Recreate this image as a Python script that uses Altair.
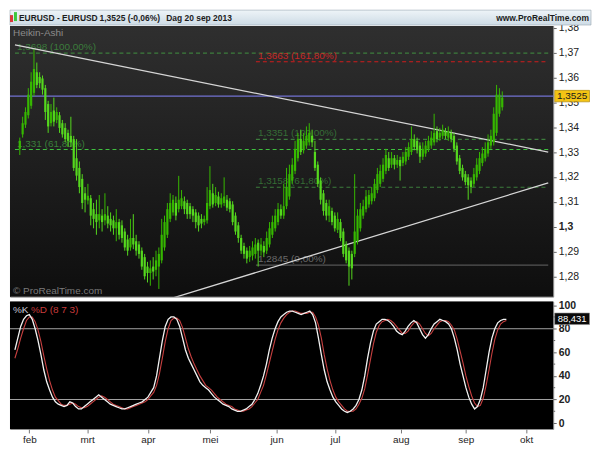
import altair as alt
import pandas as pd

# ---------------- data ----------------
idx = list(range(171))
ha_open = [1.3313,1.3371,1.3410,1.3448,1.3486,1.3538,1.3621,1.3602,1.3596,1.3557,
1.3493,1.3416,1.3467,1.3429,1.3448,1.3416,1.3397,1.3377,1.3365,1.3352,
1.3275,1.3236,1.3192,1.3134,1.3105,1.3114,1.3070,1.3050,1.3025,1.3044,
1.3025,1.3044,1.3031,1.3025,1.2993,1.3018,1.3005,1.2980,1.2948,1.2916,
1.2954,1.2941,1.2928,1.2903,1.2877,1.2839,1.2813,1.2839,1.2826,1.2839,
1.2864,1.2916,1.2967,1.3031,1.3057,1.3095,1.3070,1.3082,1.3102,1.3095,
1.3082,1.3070,1.3057,1.3044,1.3031,1.3018,1.3025,1.3082,1.3134,1.3095,
1.3121,1.3089,1.3095,1.3108,1.3102,1.3089,1.3044,1.3005,1.2954,1.2922,
1.2903,1.2877,1.2883,1.2890,1.2935,1.2903,1.2922,1.2903,1.2928,1.2967,
1.2993,1.3018,1.3070,1.3044,1.3082,1.3121,1.3185,1.3224,1.3275,1.3352,
1.3307,1.3326,1.3339,1.3365,1.3300,1.3249,1.3185,1.3134,1.3095,1.3044,
1.3063,1.3044,1.2987,1.3018,1.2980,1.2928,1.2903,1.2890,1.2890,1.2941,
1.2993,1.3044,1.3070,1.3089,1.3102,1.3114,1.3147,1.3172,1.3192,1.3224,
1.3275,1.3249,1.3275,1.3249,1.3268,1.3256,1.3262,1.3281,1.3300,1.3352,
1.3345,1.3326,1.3281,1.3294,1.3313,1.3326,1.3339,1.3384,1.3358,1.3365,
1.3384,1.3358,1.3377,1.3365,1.3326,1.3275,1.3236,1.3211,1.3198,1.3185,
1.3172,1.3198,1.3224,1.3256,1.3275,1.3294,1.3326,1.3339,1.3377,1.3454,
1.3480]
ha_close = [1.3345,1.3416,1.3461,1.3531,1.3583,1.3634,1.3570,1.3577,1.3551,1.3461,
1.3403,1.3461,1.3422,1.3461,1.3397,1.3371,1.3352,1.3345,1.3339,1.3236,
1.3205,1.3159,1.3095,1.3108,1.3124,1.3044,1.3031,1.3018,1.3050,1.3018,
1.3050,1.3012,1.3005,1.2993,1.3018,1.2967,1.2954,1.2916,1.2903,1.2954,
1.2928,1.2903,1.2890,1.2839,1.2800,1.2813,1.2832,1.2819,1.2864,1.2890,
1.2967,1.3018,1.3070,1.3095,1.3108,1.3044,1.3108,1.3114,1.3070,1.3050,
1.3050,1.3044,1.3018,1.3005,1.3012,1.3031,1.3095,1.3147,1.3089,1.3127,
1.3089,1.3114,1.3121,1.3076,1.3070,1.3018,1.2980,1.2954,1.2903,1.2890,
1.2871,1.2903,1.2916,1.2928,1.2903,1.2928,1.2896,1.2954,1.2993,1.3018,
1.3044,1.3070,1.3044,1.3082,1.3159,1.3211,1.3249,1.3313,1.3352,1.3300,
1.3345,1.3365,1.3377,1.3339,1.3236,1.3172,1.3108,1.3063,1.3044,1.3082,
1.3018,1.2993,1.3031,1.2954,1.2890,1.2864,1.2839,1.2832,1.2980,1.3044,
1.3070,1.3082,1.3121,1.3127,1.3134,1.3172,1.3211,1.3224,1.3249,1.3288,
1.3236,1.3275,1.3249,1.3268,1.3243,1.3281,1.3300,1.3320,1.3352,1.3320,
1.3307,1.3281,1.3313,1.3326,1.3345,1.3358,1.3377,1.3352,1.3377,1.3390,
1.3365,1.3384,1.3352,1.3313,1.3262,1.3224,1.3198,1.3179,1.3166,1.3159,
1.3211,1.3249,1.3275,1.3294,1.3313,1.3339,1.3365,1.3454,1.3531,1.3531,
1.3519]
ha_high = [1.3358,1.3442,1.3480,1.3557,1.3621,1.3712,1.3660,1.3621,1.3608,1.3570,
1.3506,1.3493,1.3519,1.3480,1.3461,1.3429,1.3416,1.3390,1.3442,1.3365,
1.3352,1.3262,1.3211,1.3159,1.3172,1.3127,1.3095,1.3108,1.3127,1.3070,
1.3134,1.3082,1.3057,1.3044,1.3070,1.3031,1.3025,1.2993,1.2967,1.3031,
1.3050,1.2967,1.2941,1.2916,1.2890,1.2858,1.2864,1.2877,1.2903,1.2916,
1.3031,1.3044,1.3095,1.3134,1.3127,1.3121,1.3204,1.3147,1.3121,1.3108,
1.3095,1.3082,1.3070,1.3057,1.3050,1.3044,1.3159,1.3243,1.3172,1.3159,
1.3140,1.3134,1.3198,1.3127,1.3114,1.3102,1.3057,1.3018,1.2967,1.2935,
1.2916,1.2922,1.2941,1.2954,1.2948,1.2954,1.2941,1.2980,1.3018,1.3044,
1.3070,1.3095,1.3089,1.3172,1.3236,1.3249,1.3275,1.3345,1.3377,1.3390,
1.3377,1.3403,1.3416,1.3390,1.3345,1.3262,1.3198,1.3147,1.3108,1.3108,
1.3076,1.3057,1.3057,1.3031,1.2993,1.2941,1.2916,1.2903,1.3211,1.3070,
1.3095,1.3108,1.3147,1.3147,1.3159,1.3192,1.3236,1.3249,1.3275,1.3313,
1.3300,1.3300,1.3288,1.3288,1.3281,1.3300,1.3320,1.3339,1.3403,1.3371,
1.3358,1.3339,1.3339,1.3345,1.3365,1.3384,1.3454,1.3403,1.3397,1.3410,
1.3397,1.3403,1.3390,1.3377,1.3339,1.3288,1.3249,1.3224,1.3211,1.3198,
1.3236,1.3275,1.3300,1.3320,1.3339,1.3371,1.3390,1.3480,1.3570,1.3557,
1.3544]
ha_low = [1.3288,1.3358,1.3397,1.3435,1.3474,1.3525,1.3557,1.3557,1.3531,1.3429,
1.3377,1.3403,1.3403,1.3416,1.3377,1.3358,1.3339,1.3320,1.3320,1.3224,
1.3185,1.3134,1.3070,1.3057,1.3089,1.3005,1.2993,1.2967,1.2993,1.2980,
1.3005,1.2993,1.2980,1.2967,1.2941,1.2948,1.2935,1.2903,1.2883,1.2903,
1.2909,1.2883,1.2871,1.2826,1.2787,1.2775,1.2762,1.2787,1.2800,1.2749,
1.2852,1.2903,1.2954,1.3018,1.3044,1.3025,1.3057,1.3070,1.3050,1.3031,
1.3031,1.3018,1.2993,1.2980,1.2993,1.3005,1.3012,1.3070,1.3076,1.3082,
1.3076,1.3076,1.3082,1.3063,1.3057,1.3005,1.2967,1.2935,1.2890,1.2871,
1.2852,1.2858,1.2864,1.2871,1.2839,1.2883,1.2877,1.2890,1.2916,1.2954,
1.2980,1.3005,1.3031,1.3031,1.3070,1.3108,1.3172,1.3211,1.3262,1.3288,
1.3294,1.3313,1.3326,1.3320,1.3224,1.3159,1.3089,1.3044,1.3025,1.3018,
1.3005,1.2980,1.2974,1.2941,1.2877,1.2852,1.2762,1.2787,1.2877,1.2928,
1.2980,1.3031,1.3057,1.3076,1.3089,1.3102,1.3134,1.3159,1.3179,1.3211,
1.3224,1.3236,1.3230,1.3236,1.3185,1.3243,1.3249,1.3268,1.3288,1.3307,
1.3294,1.3256,1.3268,1.3281,1.3300,1.3313,1.3326,1.3339,1.3345,1.3352,
1.3352,1.3345,1.3339,1.3300,1.3249,1.3211,1.3185,1.3166,1.3108,1.3134,
1.3159,1.3185,1.3211,1.3243,1.3262,1.3281,1.3313,1.3326,1.3365,1.3442,
1.3467]

stoch_k = [62,72,82,88,91,92, 88,80,70,58,45,35,28, 22,18,16,15,14,15,18,17,
14,12,12,14,16,18,20,22,24,22, 20,18,16,15,14,13,12,12,13,14,
15,16,17,18,20,22,26,30,40,55, 70,82,88,90,90,88,82,72,62,55,
50,45,40,35,32,30,28,25,22,20, 18,16,15,14,12,11,10,10,11,12,
14,16,20,25,32,40,50,62,72,80, 86,90,92,94,95,95,94,93,92,93,
94,95,92,85,72,58,45,35,28,22, 18,15,12,10,9,10,12,15,20,28,
40,55,68,78,84,86,88,88,87,85, 82,78,76,75,78,82,85,87,85,80,
75,72,75,80,84,86,88,87,86,84, 80,72,62,50,40,30,22,16,12,14,
20,30,45,60,72,80,85,87,88,88]
stoch_d = [55,63,72,80,87,90, 90,86,79,69,57,46,36, 28,22,19,16,15,15,16,17,
16,14,13,13,14,16,18,20,22,23, 22,20,18,16,15,14,13,12,12,13,
14,15,16,17,18,20,23,26,32,42, 55,69,80,87,89,89,87,81,72,63,
56,50,45,40,36,32,30,28,25,22, 20,18,16,15,14,12,11,10,10,11,
12,14,17,20,26,32,41,51,61,71, 79,85,89,92,94,95,95,94,93,93,
93,94,94,90,83,72,58,46,36,28, 22,18,15,12,10,10,10,12,16,21,
29,41,54,67,77,83,86,87,88,87, 85,82,79,76,76,78,82,85,86,84,
80,76,74,76,80,83,86,87,87,86, 83,79,71,61,51,40,31,23,17,14,
15,21,32,45,59,71,79,84,86,87]

month_ticks = [5, 25, 46, 67.5, 90.5, 110.7, 133.5, 156, 176.8]
month_names = ["feb", "mrt", "apr", "mei", "jun", "jul", "aug", "sep", "okt"]
price_ticks = [1.28, 1.29, 1.30, 1.31, 1.32, 1.33, 1.34, 1.35, 1.36, 1.37, 1.38]
stoch_ticks = [0, 20, 40, 60, 80, 100]
stoch_minor = [10, 30, 50, 70, 90]

level_price = [1.3698, 1.3663, 1.3351, 1.3310, 1.3158]
level_label = ["1,3698 (100,00%)", "1,3663 (161,80%)", "1,3351 (100,00%)",
               "1,331 (61,80%)", "1,3158 (61,80%)"]
level_start = [-1.7, 83.2, 83.2, -1.7, 83.2]
level_color = ["#3d7d3d", "#d01c1c", "#3d7d3d", "#3fbf3f", "#3d7d3d"]
level_text = ["#3f8a3f", "#e02626", "#3a7a3a", "#3f8f3f", "#3a7a3a"]

zero_price = [1.2845]
zero_label = ["1,2845 (0,00%)"]
zero_start = [83.2]

last_price = [1.3525]
last_label = ["1,3525"]
last_stoch = [88.431]
last_stoch_label = ["88,431"]

trend_x0 = [-1.7, 54.3]
trend_p0 = [1.3731, 1.2714]
trend_x1 = [186.2, 186.2]
trend_p1 = [1.3300, 1.3176]

title_parts = ["EURUSD - EURUSD", "1,3525 (-0,06%)", "Dag  20 sep 2013"]
site_name = "www.ProRealTime.com"

# ---------------- layout ----------------
W = 546
H1 = 272
H2 = 128
XDOM = [-1.7, 186.2]
YDOM = [1.2718, 1.3807]
SDOM = [-5, 103]
FONT = "Liberation Sans"

df = pd.DataFrame({"i": idx, "open": ha_open, "close": ha_close,
                   "high": ha_high, "low": ha_low, "k": stoch_k, "d": stoch_d})
df["dir"] = ["up" if c >= o else "down" for o, c in zip(ha_open, ha_close)]

lv = pd.DataFrame({"p": level_price, "lab": level_label, "x0": level_start,
                   "x1": [XDOM[1]] * len(level_price), "col": level_color,
                   "tcol": level_text})
zr = pd.DataFrame({"p": zero_price, "lab": zero_label, "x0": zero_start,
                   "x1": [XDOM[1]]})
tr = pd.DataFrame({"x0": trend_x0, "p0": trend_p0, "x1": trend_x1, "p1": trend_p1})
lp = pd.DataFrame({"p": last_price, "lab": last_label})
one = pd.DataFrame({"a": [0]})

xs = alt.Scale(domain=XDOM, nice=False, zero=False)
ys = alt.Scale(domain=YDOM, nice=False, zero=False)

price_axis = alt.Axis(
    orient="right", values=price_ticks, title=None, grid=False, domain=False,
    labelExpr="abs(datum.value-1.3)<0.0001 ? '1,3' : replace(format(datum.value, '.2f'), '.', ',')",
    labelFont=FONT, labelFontSize=10.5, labelColor="#222222", tickColor="#666666",
    tickSize=3, labelPadding=2,
    labelFontWeight=alt.condition("abs(datum.value-1.3)<0.0001", alt.value("bold"), alt.value("normal")),
)


def X(f):
    return alt.X(f, type="quantitative", scale=xs, axis=None)


def Y(f):
    return alt.Y(f, type="quantitative", scale=ys, axis=price_axis)


bg = alt.Chart(one).mark_rect(
    fill=alt.Gradient(gradient="linear", x1=0, x2=0, y1=0, y2=1,
                      stops=[alt.GradientStop(color="#2f2f2f", offset=0),
                             alt.GradientStop(color="#0e0e0e", offset=1)])
).encode(x=alt.value(0), x2=alt.value(W), y=alt.value(0), y2=alt.value(H1))

titlebar = alt.Chart(one).mark_rect(
    fill=alt.Gradient(gradient="linear", x1=0, x2=0, y1=0, y2=1,
                      stops=[alt.GradientStop(color="#eef4f8", offset=0),
                             alt.GradientStop(color="#cddbe5", offset=1)]),
    stroke="#9aa8b2", strokeWidth=0.6
).encode(x=alt.value(0), x2=alt.value(W + 38), y=alt.value(-16), y2=alt.value(-1))

icon_r = alt.Chart(one).mark_rect(fill="#d83a3a").encode(
    x=alt.value(0), x2=alt.value(3), y=alt.value(-11), y2=alt.value(-4))
icon_g = alt.Chart(one).mark_rect(fill="#3cc83c").encode(
    x=alt.value(4), x2=alt.value(7), y=alt.value(-14), y2=alt.value(-5))

title_texts = []
for tx, txt, al in [(9, title_parts[0], "left"), (90, title_parts[1], "left"),
                    (157, title_parts[2], "left"), (W + 36, site_name, "right")]:
    title_texts.append(alt.Chart(one).mark_text(
        text=txt, align=al, baseline="middle", font=FONT, fontSize=8.5,
        fontWeight="bold", color="#1c1c1c"
    ).encode(x=alt.value(tx), y=alt.value(-8)))

heikin = alt.Chart(one).mark_text(
    text="Heikin-Ashi", align="left", baseline="top", font=FONT, fontSize=10,
    color="#8c8c8c").encode(x=alt.value(3), y=alt.value(2))
copyright_t = alt.Chart(one).mark_text(
    text="© ProRealTime.com", align="left", baseline="bottom", font=FONT,
    fontSize=10, color="#7a7a7a").encode(x=alt.value(3), y=alt.value(H1 - 1))

blue = alt.Chart(lp).mark_rule(color="#7272d2", strokeWidth=1.2).encode(
    x=alt.value(0), x2=alt.value(W), y=Y("p"))

lev_lines = alt.Chart(lv).mark_rule(strokeDash=[4, 3], strokeWidth=1.1).encode(
    x=X("x0"), x2="x1", y=Y("p"), color=alt.Color("col:N", scale=None))
lev_text = alt.Chart(lv).mark_text(
    align="left", baseline="bottom", dx=2, dy=-1, font=FONT, fontSize=10, opacity=0.85
).encode(x=X("x0"), y=Y("p"), text="lab:N", color=alt.Color("tcol:N", scale=None))

zero_line = alt.Chart(zr).mark_rule(color="#555555", strokeWidth=1.2).encode(
    x=X("x0"), x2="x1", y=Y("p"))
zero_text = alt.Chart(zr).mark_text(
    align="left", baseline="bottom", dx=2, dy=-1, font=FONT, fontSize=10,
    color="#6a6a6a").encode(x=X("x0"), y=Y("p"), text="lab:N")

trend = alt.Chart(tr).mark_rule(color="#d6d6d6", strokeWidth=1.3, clip=True).encode(
    x=X("x0"), x2="x1", y=Y("p0"), y2="p1")

wick = alt.Chart(df).mark_rule(strokeWidth=1).encode(
    x=X("i"), y=Y("low"), y2="high",
    color=alt.Color("dir:N", scale=alt.Scale(domain=["up", "down"], range=["#36b800", "#55d81e"]), legend=None))
body = alt.Chart(df).mark_bar(size=2.2).encode(
    x=X("i"), y=Y("open"), y2="close",
    color=alt.Color("dir:N", scale=alt.Scale(domain=["up", "down"], range=["#2d8f00", "#b4f388"]), legend=None))

RECT = "M-1,-0.33L1,-0.33L1,0.33L-1,0.33Z"
tag = alt.Chart(lp).mark_point(
    shape=RECT, size=1225, filled=True, fill="#f4c414", stroke="#a07c00",
    strokeWidth=0.6, opacity=1).encode(x=alt.value(W + 19), y=Y("p"))
tag_t = alt.Chart(lp).mark_text(
    font=FONT, fontSize=10, color="#1a1a1a", align="center", baseline="middle"
).encode(x=alt.value(W + 19), y=Y("p"), text="lab:N")

price = alt.layer(
    titlebar, icon_r, icon_g, *title_texts, bg, heikin, copyright_t,
    zero_line, zero_text, lev_lines, lev_text, blue, trend, wick, body, tag, tag_t
).properties(width=W, height=H1)

# ---------------- stochastic ----------------
ss = alt.Scale(domain=SDOM, nice=False, zero=False)
label_expr = ("[" + ",".join("'%s'" % m for m in month_names) + "][indexof(["
              + ",".join(str(v) for v in month_ticks) + "], datum.value)]")
x_axis = alt.Axis(values=month_ticks, labelExpr=label_expr, title=None, grid=False,
                  domain=False, labelFont=FONT, labelFontSize=10, labelColor="#222222",
                  tickColor="#777777", tickSize=4, labelPadding=2)
s_axis = alt.Axis(orient="right", values=stoch_ticks, title=None, grid=False,
                  domain=False, labelFont=FONT, labelFontSize=10.5, labelFontWeight="bold",
                  labelColor="#222222", tickColor="#666666", tickSize=3, labelPadding=2)


def SX(f):
    return alt.X(f, type="quantitative", scale=xs, axis=x_axis)


def SY(f):
    return alt.Y(f, type="quantitative", scale=ss, axis=s_axis)


sl = pd.DataFrame({"s": [80, 20]})
sm = pd.DataFrame({"s": stoch_minor})
sg = pd.DataFrame({"s": last_stoch, "lab": last_stoch_label})

s_bg = alt.Chart(one).mark_rect(fill="#000000").encode(
    x=alt.value(0), x2=alt.value(W), y=alt.value(0), y2=alt.value(H2))
s_rules = alt.Chart(sl).mark_rule(color="#a4a4a4", strokeWidth=1).encode(
    x=alt.value(0), x2=alt.value(W), y=SY("s"))
s_minor = alt.Chart(sm).mark_rule(color="#666666", strokeWidth=1).encode(
    x=alt.value(W), x2=alt.value(W + 2), y=SY("s"))
d_line = alt.Chart(df).mark_line(color="#c84040", strokeWidth=1.1).encode(x=SX("i"), y=SY("d"))
k_line = alt.Chart(df).mark_line(color="#f2f2f2", strokeWidth=1.3).encode(x=SX("i"), y=SY("k"))
k_lab = alt.Chart(one).mark_text(text="%K", align="left", baseline="top", font=FONT,
                                  fontSize=10, color="#c8c8d8").encode(x=alt.value(3), y=alt.value(3))
d_lab = alt.Chart(one).mark_text(text="%D (8 7 3)", align="left", baseline="top", font=FONT,
                                  fontSize=10, color="#c83c3c").encode(x=alt.value(21), y=alt.value(3))
s_tag = alt.Chart(sg).mark_point(shape=RECT, size=1225, filled=True, fill="#0a0a0a",
                                 stroke="#8a8a8a", strokeWidth=0.6, opacity=1).encode(
    x=alt.value(W + 19), y=SY("s"))
s_tag_t = alt.Chart(sg).mark_text(font=FONT, fontSize=9.5, color="#ffffff", align="center",
                                  baseline="middle").encode(x=alt.value(W + 19), y=SY("s"), text="lab:N")

stoch = alt.layer(s_bg, s_rules, s_minor, d_line, k_line, k_lab, d_lab, s_tag, s_tag_t).properties(
    width=W, height=H2)

chart = alt.vconcat(price, stoch, spacing=2).configure(
    background="#ffffff", padding=0
).configure_view(stroke="#8a8a8a", strokeWidth=1)

chart.save("out.html", embed_options={"renderer": "svg", "actions": False})
